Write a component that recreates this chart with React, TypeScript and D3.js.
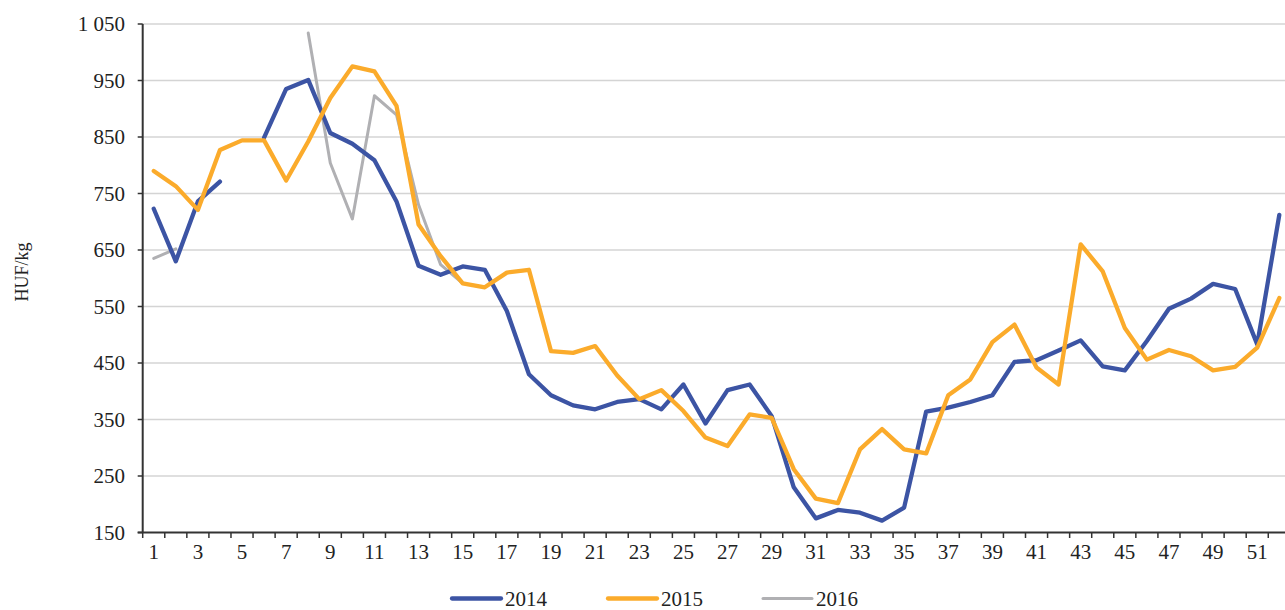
import React, { useRef, useEffect } from "react";
import * as d3 from "d3";

const weeks: number[] = d3.range(1, 53);

const values2014: (number | null)[] = [
  723, 630, 736, 771, null, 849, 935, 951, 857, 838,
  809, 736, 622, 606, 621, 615, 542, 430, 393, 375,
  368, 381, 386, 368, 412, 343, 402, 412, 356, 230,
  175, 190, 185, 171, 194, 364, 371, 381, 393, 452,
  455, 472, 490, 444, 437, 489, 546, 564, 590, 581,
  483, 712,
];

const values2015: (number | null)[] = [
  790, 763, 721, 827, 844, 844, 773, 842, 919, 975,
  966, 905, 695, 639, 591, 584, 610, 615, 471, 468,
  480, 428, 386, 402, 365, 318, 303, 359, 353, 262,
  210, 202, 297, 333, 297, 290, 393, 421, 487, 518,
  442, 412, 660, 612, 512, 456, 473, 462, 437, 443,
  477, 565,
];

const values2016: (number | null)[] = [
  635, 652, null, null, null, null, null, 1034, 804, 705,
  923, 889, 730, 624, 591, null, null, null, null, null,
  null, null, null, null, null, null, null, null, null, null,
  null, null, null, null, null, null, null, null, null, null,
  null, null, null, null, null, null, null, null, null, null,
  null, null,
];

const seriesNames: string[] = ["2014", "2015", "2016"];
const seriesColors: string[] = ["#3c54a4", "#fbab2b", "#b0b0b3"];
const seriesWidths: number[] = [4.3, 4.3, 3];
const yTicks: number[] = [150, 250, 350, 450, 550, 650, 750, 850, 950, 1050];
const xLabelWeeks: number[] = weeks.filter((w) => w % 2 === 1);

const WIDTH = 1285;
const HEIGHT = 610;
const FONT = "'Liberation Serif', 'Times New Roman', serif";

const App = () => {
  const svgRef = useRef<SVGSVGElement>(null);

  useEffect(() => {
    const svg = d3.select(svgRef.current);
    svg.selectAll("*").remove();

    const left = 142.7;
    const band = 22.07;
    const x = d3
      .scaleBand<number>()
      .domain(weeks)
      .range([left, left + band * weeks.length])
      .padding(0);
    const y = d3.scaleLinear().domain([150, 1050]).range([532.5, 24]);

    const fmt = (v: number) => d3.format(",")(v).replace(",", " ");

    // gridlines
    svg
      .append("g")
      .selectAll("line")
      .data(yTicks.slice(1))
      .enter()
      .append("line")
      .attr("x1", left)
      .attr("x2", WIDTH)
      .attr("y1", (d) => y(d))
      .attr("y2", (d) => y(d))
      .attr("stroke", "#d4d4d4")
      .attr("stroke-width", 1.5);

    // y tick labels and marks
    const yg = svg.append("g");
    yg.selectAll("line")
      .data(yTicks)
      .enter()
      .append("line")
      .attr("x1", left - 5)
      .attr("x2", left)
      .attr("y1", (d) => y(d))
      .attr("y2", (d) => y(d))
      .attr("stroke", "#333")
      .attr("stroke-width", 1.5);
    yg.selectAll("text")
      .data(yTicks)
      .enter()
      .append("text")
      .attr("x", 125)
      .attr("y", (d) => y(d))
      .attr("dy", "0.34em")
      .attr("text-anchor", "end")
      .style("font-family", FONT)
      .style("font-size", "21px")
      .style("fill", "#222")
      .text((d) => fmt(d));

    // x ticks at band boundaries
    const xg = svg.append("g");
    xg.selectAll("line")
      .data(weeks)
      .enter()
      .append("line")
      .attr("x1", (d) => x(d)!)
      .attr("x2", (d) => x(d)!)
      .attr("y1", y(150))
      .attr("y2", y(150) + 5.5)
      .attr("stroke", "#333")
      .attr("stroke-width", 1.5);
    xg.selectAll("text")
      .data(xLabelWeeks)
      .enter()
      .append("text")
      .attr("x", (d) => x(d)! + x.bandwidth() / 2)
      .attr("y", 559)
      .attr("text-anchor", "middle")
      .style("font-family", FONT)
      .style("font-size", "21px")
      .style("fill", "#222")
      .text((d) => d);

    // axis lines
    svg
      .append("line")
      .attr("x1", left)
      .attr("x2", left)
      .attr("y1", y(1050))
      .attr("y2", y(150))
      .attr("stroke", "#333")
      .attr("stroke-width", 2);
    svg
      .append("line")
      .attr("x1", left - 5)
      .attr("x2", WIDTH)
      .attr("y1", y(150))
      .attr("y2", y(150))
      .attr("stroke", "#333")
      .attr("stroke-width", 2);

    // y axis title
    svg
      .append("text")
      .attr("transform", "translate(28, 272) rotate(-90)")
      .attr("text-anchor", "middle")
      .style("font-family", FONT)
      .style("font-size", "18px")
      .style("fill", "#222")
      .text("HUF/kg");

    // lines
    const allSeries = [values2014, values2015, values2016];
    const lineGen = d3
      .line<number | null>()
      .defined((d) => d != null)
      .x((d, i) => x(weeks[i])! + x.bandwidth() / 2)
      .y((d) => y(d as number));

    [2, 0, 1].forEach((s) => {
      svg
        .append("path")
        .datum(allSeries[s])
        .attr("d", lineGen)
        .attr("fill", "none")
        .attr("stroke", seriesColors[s])
        .attr("stroke-width", seriesWidths[s])
        .attr("stroke-linejoin", "round")
        .attr("stroke-linecap", "round");
    });

    // legend
    const legendX = [452, 608, 763];
    const legend = svg
      .selectAll(".legend-item")
      .data(seriesNames)
      .enter()
      .append("g")
      .attr("class", "legend-item")
      .attr("transform", (d, i) => `translate(${legendX[i]}, 598.5)`);
    legend
      .append("line")
      .attr("x1", 0)
      .attr("x2", 49)
      .attr("stroke", (d, i) => seriesColors[i])
      .attr("stroke-width", (d, i) => seriesWidths[i])
      .attr("stroke-linecap", "round");
    legend
      .append("text")
      .attr("x", 53)
      .attr("y", 7.5)
      .style("font-family", FONT)
      .style("font-size", "21px")
      .style("fill", "#222")
      .text((d) => d);
  }, []);

  return (
    <svg
      ref={svgRef}
      width={WIDTH}
      height={HEIGHT}
      style={{ position: "absolute", left: 0, top: 0, background: "#fff" }}
    />
  );
};

export default App;
